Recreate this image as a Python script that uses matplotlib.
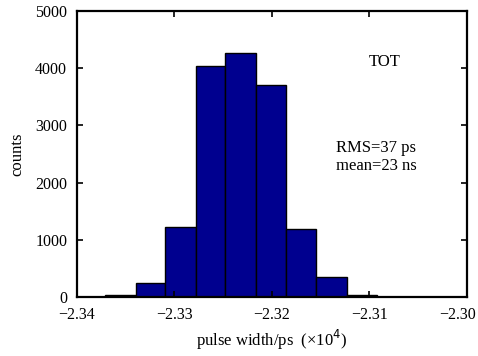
import matplotlib
matplotlib.use("Agg")
import matplotlib.pyplot as plt
import matplotlib.transforms as mtransforms
import numpy as np

# bin edges (x10^4 ps) and counts
bin_edges = [-2.33713, -2.33395, -2.33097, -2.32779, -2.32482, -2.32164,
             -2.31856, -2.31549, -2.31231, -2.30923]
counts = [30, 250, 1220, 4040, 4260, 3710, 1185, 355, 30]

xticks = [-2.34, -2.33, -2.32, -2.31, -2.30]
xticklabels = ["\u22122.34", "\u22122.33", "\u22122.32", "\u22122.31", "\u22122.30"]
yticks = [0, 1000, 2000, 3000, 4000, 5000]

plt.rcParams['font.family'] = ['Liberation Serif', 'DejaVu Serif']
plt.rcParams['font.size'] = 11

fig = plt.figure(figsize=(4.78, 3.56), dpi=100)
ax = fig.add_axes([0.161, 0.166, 0.816, 0.803])

edges = np.array(bin_edges)
ax.bar(edges[:-1], counts, width=np.diff(edges), align='edge',
       color='#00008F', edgecolor='black', linewidth=1.0)

ax.set_xlim(-2.34, -2.30)
ax.set_ylim(0, 5000)
ax.set_xticks(xticks)
ax.set_xticklabels(xticklabels)
ax.set_yticks(yticks)
ax.tick_params(direction='in', top=True, right=True, length=4, width=1.2,
               labelsize=11.5)
ax.tick_params(axis='x', pad=7)
ax.tick_params(axis='y', pad=7)
for s in ax.spines.values():
    s.set_linewidth(1.6)

# keep the last x tick label inside the figure, as in the reference
last = ax.get_xticklabels()[-1]
last.set_transform(last.get_transform() +
                   mtransforms.ScaledTranslation(-9 / 100, 0, fig.dpi_scale_trans))

ax.set_xlabel("pulse width/ps  (\u00d710$^4$)", fontsize=12, labelpad=4)
ax.set_ylabel("counts", fontsize=12, labelpad=7)

ax.text(0.79, 0.82, "TOT", transform=ax.transAxes, ha='center', va='center', fontsize=12)
ax.text(0.664, 0.49, "RMS=37 ps\nmean=23 ns", transform=ax.transAxes,
        ha='left', va='center', fontsize=12, linespacing=1.15)

fig.savefig("out.png", dpi=100)
